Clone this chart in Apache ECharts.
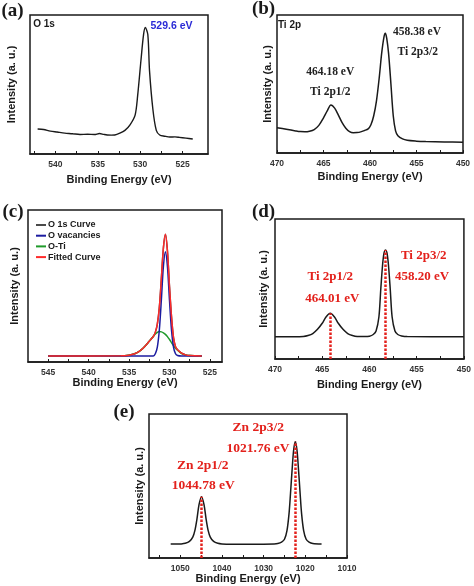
<!DOCTYPE html>
<html><head><meta charset="utf-8">
<script src="https://cdn.jsdelivr.net/npm/echarts@6/dist/echarts.min.js"></script>
<style>html,body{margin:0;padding:0;background:#fff}#c{width:474px;height:586px}</style>
</head><body><div id="c"></div>
<script>
// ---- Panel (a): O 1s ----
const aEnergy = [542.1,541.4,540.6,539.8,538.9,538,537.1,536.2,535.4,534.8,534.3,533.9,533.4,533.0,532.4,531.8,531.2,530.6,530.3,529.9,529.6,529.4,529.1,528.9,528.5,528.1,527.7,527.1,526.5,525.9,525.4,524.6,523.8];
const aIntensity = [18,17.6,16.5,15.8,15,14.6,14,14.2,14,14.7,14.1,13.7,13.6,13.7,15,17,21,28,42,68,86,91,86,60,32,17,13.7,12.8,12.2,12.3,12,11.4,10.8];
const aTicks = [525,527.5,530,532.5,535,537.5,540,542.5];
const aLabels = [525,530,535,540];

// ---- Panel (b): Ti 2p ----
const bEnergy = [470,469,468,467.5,467,466.5,466,465.5,465,464.6,464.2,463.8,463.4,463,462.6,462.2,461.8,461.4,461,460.6,460.2,459.9,459.6,459.3,459,458.75,458.5,458.35,458.2,458,457.75,457.5,457.25,457,456.5,456,455,454,452,450];
const bIntensity = [18.3,17.2,16,15.5,15.4,15.8,17,20,25.5,30.5,34.8,32.5,27.5,22,18,15.5,14.7,14.8,15.3,16.3,17.5,20.5,27,38,55,72,84,86.7,83,72,50,27,16,12.5,10.2,9.2,8.6,8.3,8,7.8];
const tiTicks = [450,452.5,455,457.5,460,462.5,465,467.5,470];
const tiLabels = [450,455,460,465,470];

// ---- Panel (c): O 1s fit ----
const cEnergy = [545,536,535,534.5,534,533.5,533,532.5,532,531.75,531.5,531.25,531,530.75,530.5,530.25,530,529.75,529.5,529.25,529,528.5,528,527.5,526];
const cO1sCurve = [4,4.1,4.5,5.1,6.2,8,10.6,13.7,16.8,19.5,24.9,36,55,75,84,73,50,30,16,10,8,5.8,4.7,4.2,4];
const cVacancies = [4,4,4,4,4,4,4,4,4,5.4,9.8,21.2,41,62.8,72.6,62.8,41,21.2,9.8,5.4,4.3,4,4,4,4];
const cOTi = [4,4.1,4.5,5.1,6.2,8,10.6,13.7,16.8,18.4,19.5,20,19.8,19.2,18.2,16.7,14.8,12.8,10.8,9.1,7.7,5.6,4.6,4.2,4];
const cFitted = [4,4.1,4.5,5.1,6.2,8,10.6,13.7,16.8,19.5,24.9,36,55,75,84,73,50,30,16,10,8,5.8,4.7,4.2,4];
const cTicks = [525,527.5,530,532.5,535,537.5,540,542.5,545];
const cLabels = [525,530,535,540,545];
const cNames = ['O 1s Curve','O vacancies','O-Ti','Fitted Curve'];

// ---- Panel (d): Ti 2p ----
const dEnergy = [470,468,467,466.5,466,465.5,465,464.6,464.15,463.7,463.3,462.8,462.3,461.8,461.3,460.5,460,459.6,459.3,459,458.8,458.6,458.45,458.3,458.15,458,457.8,457.6,457.3,457,456.6,456,450];
const dIntensity = [15.9,15.9,16.1,16.8,18.2,21.2,25.5,30,32.6,30,25.5,21.2,18.2,16.8,16.1,16,16.3,17.5,20,30,50,68,76,77.9,76,68,50,30,20,17.5,16.5,16,15.9];
const dPeakLines = [464.15,458.3];

// ---- Panel (e): Zn 2p ----
const eEnergy = [1052.3,1051,1049.8,1048.8,1047.8,1047,1046.5,1046,1045.5,1044.9,1044.3,1043.8,1043.3,1042.8,1042,1041,1040,1035,1030,1027.5,1026.6,1025.7,1025,1024.4,1023.9,1023.55,1023.2,1022.8,1022.4,1022,1021.6,1021.25,1020.9,1020.4,1019.8,1019.1,1018.2,1016.1];
const eIntensity = [9.7,9.7,9.8,10.2,11.5,14.5,19,27,37,42.6,37,27,19,14.5,11.5,10.2,9.8,9.6,9.6,9.7,10,11,13,19,31,45,60,75,80.8,75,60,45,31,19,13,11,10,9.7];
const eTicks = [1010,1015,1020,1025,1030,1035,1040,1045,1050,1055];
const eLabels = [1010,1020,1030,1040,1050];
const ePeakLines = [1044.9,1022.4];

const zip = (xs, ys) => xs.map((x, i) => [x, ys[i]]);
const yAt = (xs, ys, x) => ys[xs.indexOf(x)];

const SANS = '"Liberation Sans", Arial, sans-serif';
const SERIF = '"Liberation Serif", "Times New Roman", serif';
const INK = '#1a1a1a';
const RED = '#e3211c';

function xAx(gi, min, max, inverse, ticks, labels, nameGap) {
  return {
    type: 'value', gridIndex: gi, min, max, inverse,
    name: 'Binding Energy (eV)', nameLocation: 'middle', nameGap,
    nameTextStyle: { fontFamily: SANS, fontWeight: 'bold', fontSize: 11, color: INK },
    axisLine: { show: true, lineStyle: { color: INK, width: 1.5 } },
    axisTick: { show: true, inside: true, length: 3, customValues: ticks, lineStyle: { color: INK, width: 1 } },
    axisLabel: { show: true, customValues: labels, margin: 6, fontFamily: SANS, fontWeight: 'bold', fontSize: 8.5, color: '#333', formatter: v => String(v) },
    splitLine: { show: false }
  };
}
function yAx(gi, nameGap) {
  return {
    type: 'value', gridIndex: gi, min: 0, max: 100,
    name: 'Intensity (a. u.)', nameLocation: 'middle', nameGap,
    nameTextStyle: { fontFamily: SANS, fontWeight: 'bold', fontSize: 11, color: INK },
    axisLine: { show: false }, axisTick: { show: false }, axisLabel: { show: false }, splitLine: { show: false }
  };
}
function line(name, xi, data, color, width, z) {
  return { name, type: 'line', xAxisIndex: xi, yAxisIndex: xi, data, showSymbol: false, symbol: 'none',
    smooth: 0.3, lineStyle: { color, width }, itemStyle: { color }, z: z || 2, silent: true };
}
function peakLines(xs, ys, lines) {
  return { symbol: ['none', 'none'], silent: true, label: { show: false },
    lineStyle: { color: RED, type: [2.5, 1.5], width: 2.5 },
    data: lines.map(e => [{ coord: [e, 0] }, { coord: [e, yAt(xs, ys, e)] }]) };
}
function T(text, x, y, font, fill) {
  return { type: 'text', x, y, silent: true,
    style: { text, font, fill, align: 'center', verticalAlign: 'middle', textAlign: 'center', textVerticalAlign: 'middle' } };
}

const grids = [
  { left: 30, top: 15, width: 178, height: 139 },
  { left: 277, top: 15, width: 186, height: 138 },
  { left: 28, top: 210, width: 194, height: 152 },
  { left: 275, top: 219, width: 190, height: 140 },
  { left: 149, top: 414, width: 198, height: 144 }
].map(g => Object.assign(g, { show: true, borderColor: INK, borderWidth: 1.5, backgroundColor: 'transparent' }));

const sD = line('d', 3, zip(dEnergy, dIntensity), INK, 1.5);
sD.markLine = peakLines(dEnergy, dIntensity, dPeakLines);
const sE = line('e', 4, zip(eEnergy, eIntensity), INK, 1.5);
sE.markLine = peakLines(eEnergy, eIntensity, ePeakLines);

const option = {
  animation: false,
  textStyle: { fontFamily: SANS },
  grid: grids,
  xAxis: [
    xAx(0, 522, 543, true, aTicks, aLabels, 20),
    xAx(1, 450, 470, true, tiTicks, tiLabels, 18),
    xAx(2, 523.5, 547.5, true, cTicks, cLabels, 15),
    xAx(3, 450, 470, true, tiTicks, tiLabels, 20),
    xAx(4, 1010, 1057.5, true, eTicks, eLabels, 14)
  ],
  yAxis: [yAx(0, 13), yAx(1, 4), yAx(2, 8), yAx(3, 6), yAx(4, 4)],
  legend: {
    data: cNames, orient: 'vertical', left: 31, top: 215, itemWidth: 10, itemHeight: 2, itemGap: 0.7,
    icon: 'rect', selectedMode: false,
    textStyle: { fontFamily: SANS, fontWeight: 'bold', fontSize: 9, color: INK, lineHeight: 10, padding: [0, 0, 0, -3] }
  },
  series: [
    line('a', 0, zip(aEnergy, aIntensity), INK, 1.4),
    line('b', 1, zip(bEnergy, bIntensity), INK, 1.5),
    line(cNames[0], 2, zip(cEnergy, cO1sCurve), '#4a4a4a', 1.5, 2),
    line(cNames[2], 2, zip(cEnergy, cOTi), '#1f9a2a', 1.5, 3),
    line(cNames[1], 2, zip(cEnergy, cVacancies), '#1c1ca0', 1.5, 4),
    line(cNames[3], 2, zip(cEnergy, cFitted), '#ff2a2a', 1.5, 5),
    sD, sE
  ],
  graphic: [
    T('(a)', 12.5, 11, 'bold 19px ' + SERIF, INK),
    T('(b)', 263.5, 9.5, 'bold 19px ' + SERIF, INK),
    T('(c)', 13, 212.5, 'bold 19px ' + SERIF, INK),
    T('(d)', 263.5, 212.5, 'bold 19px ' + SERIF, INK),
    T('(e)', 124, 412.5, 'bold 19px ' + SERIF, INK),
    T('O 1s', 44, 24.5, 'bold 10px ' + SANS, INK),
    T('529.6 eV', 171.5, 26, 'bold 10.5px ' + SANS, '#2a2ad6'),
    T('Ti 2p', 289.5, 25, 'bold 10px ' + SANS, INK),
    T('458.38 eV', 417, 32.3, 'bold 11.5px ' + SERIF, '#222'),
    T('Ti 2p3/2', 417.7, 52.3, 'bold 11.5px ' + SERIF, '#222'),
    T('464.18 eV', 330.3, 72.3, 'bold 11.5px ' + SERIF, '#222'),
    T('Ti 2p1/2', 330.3, 92.3, 'bold 11.5px ' + SERIF, '#222'),
    T('Ti 2p3/2', 423.7, 255.7, 'bold 13px ' + SERIF, RED),
    T('458.20 eV', 422, 276.7, 'bold 13px ' + SERIF, RED),
    T('Ti 2p1/2', 330.3, 276.7, 'bold 13px ' + SERIF, RED),
    T('464.01 eV', 332.3, 299, 'bold 13px ' + SERIF, RED),
    T('Zn 2p3/2', 258.3, 427.7, 'bold 13.5px ' + SERIF, RED),
    T('1021.76 eV', 258, 448.3, 'bold 13.5px ' + SERIF, RED),
    T('Zn 2p1/2', 202.7, 465.7, 'bold 13.5px ' + SERIF, RED),
    T('1044.78 eV', 203.3, 485.7, 'bold 13.5px ' + SERIF, RED)
  ]
};
const chart = echarts.init(document.getElementById('c'), null, { renderer: 'canvas' });
chart.setOption(option);
</script></body></html>
